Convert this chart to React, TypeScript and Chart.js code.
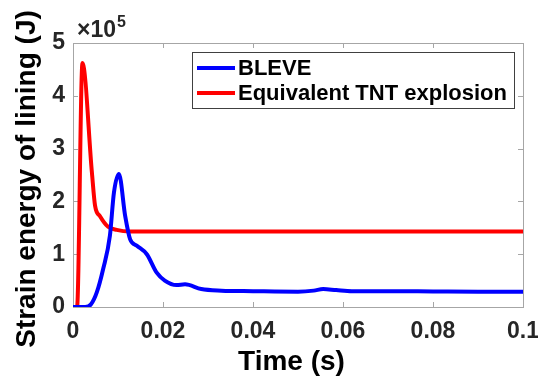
import React, { useEffect, useRef } from "react";
import { Chart, registerables } from "chart.js";

Chart.register(...registerables);

// Data (energy in units of 1e5 J)
const SCALE = 1e5;
const bleveTime = [0, 0.0027, 0.004, 0.0053, 0.0067, 0.0082, 0.0091, 0.0102, 0.0116, 0.0127, 0.0142, 0.0164, 0.0186, 0.0204, 0.023, 0.0249, 0.0285, 0.033, 0.04, 0.05, 0.0535, 0.0556, 0.0585, 0.062, 0.07, 0.08, 0.09, 0.1];
const bleveEnergy = [0, 0, 0.05, 0.28, 0.72, 1.35, 2.17, 2.52, 1.72, 1.28, 1.16, 1.0, 0.65, 0.5, 0.415, 0.43, 0.34, 0.31, 0.3, 0.29, 0.31, 0.34, 0.32, 0.3, 0.3, 0.295, 0.29, 0.29];
const tntTime = [0, 0.0009, 0.0021, 0.0042, 0.0049, 0.006, 0.0078, 0.0097, 0.0127, 0.02, 0.1];
const tntEnergy = [0, 0, 4.62, 2.55, 1.92, 1.72, 1.52, 1.46, 1.43, 1.43, 1.43];

const seriesLabels = ["BLEVE", "Equivalent TNT explosion"];
const seriesColors = ["#0000ff", "#ff0000"];
const xTickStep = 0.02;
const yTickStep = 1;
const xTitle = "Time (s)";
const yTitle = "Strain energy of lining (J)";

const FONT = "'Liberation Sans', Arial, sans-serif";

const framePlugin = {
  id: "frame",
  beforeDatasetsDraw(chart: any) {
    const { ctx, chartArea, scales } = chart;
    const { left, right, top, bottom } = chartArea;
    ctx.save();
    ctx.strokeStyle = "#a6a6a6";
    ctx.lineWidth = 1;
    ctx.strokeRect(Math.round(left) + 0.5, Math.round(top) + 0.5, Math.round(right - left), Math.round(bottom - top));
    const tl = 5;
    ctx.beginPath();
    scales.x.ticks.forEach((t: any) => {
      const px = Math.round(scales.x.getPixelForValue(t.value)) + 0.5;
      ctx.moveTo(px, bottom);
      ctx.lineTo(px, bottom - tl);
      ctx.moveTo(px, top);
      ctx.lineTo(px, top + tl);
    });
    scales.y.ticks.forEach((t: any) => {
      const py = Math.round(scales.y.getPixelForValue(t.value)) + 0.5;
      ctx.moveTo(left, py);
      ctx.lineTo(left + tl, py);
      ctx.moveTo(right, py);
      ctx.lineTo(right - tl, py);
    });
    ctx.stroke();
    ctx.restore();
  },
  afterDraw(chart: any) {
    const { ctx, chartArea } = chart;
    const { left, top } = chartArea;
    ctx.save();
    // axis titles
    ctx.fillStyle = "#000000";
    ctx.font = `bold 28px ${FONT}`;
    ctx.textAlign = "center";
    ctx.textBaseline = "alphabetic";
    ctx.fillText(xTitle, 291.5, 370);
    ctx.save();
    ctx.translate(35, 179);
    ctx.rotate(-Math.PI / 2);
    ctx.fillText(yTitle, 0, 0);
    ctx.restore();

    // exponent label
    ctx.fillStyle = "#262626";
    ctx.textBaseline = "alphabetic";
    ctx.textAlign = "left";
    ctx.font = `bold 23px ${FONT}`;
    ctx.fillText("×10", left + 4, top - 6);
    const w = ctx.measureText("×10").width;
    ctx.font = `bold 16px ${FONT}`;
    ctx.fillText("5", left + 4 + w + 1, top - 16);

    // legend
    const bx = left + 119;
    const by = top + 9;
    const bw = 322;
    const bh = 56;
    ctx.fillStyle = "#ffffff";
    ctx.fillRect(bx, by, bw, bh);
    ctx.strokeStyle = "#404040";
    ctx.lineWidth = 1;
    ctx.strokeRect(Math.round(bx) + 0.5, Math.round(by) + 0.5, bw, bh);
    chart.data.datasets.forEach((ds: any, i: number) => {
      const cy = by + 16 + i * 25;
      ctx.strokeStyle = ds.borderColor;
      ctx.lineWidth = 4;
      ctx.beginPath();
      ctx.moveTo(bx + 5, cy);
      ctx.lineTo(bx + 43, cy);
      ctx.stroke();
      ctx.fillStyle = "#000000";
      ctx.font = `bold 22px ${FONT}`;
      ctx.textBaseline = "middle";
      ctx.fillText(ds.label, bx + 46, cy + 1);
    });
    ctx.restore();
  },
};

export default function App() {
  const ref = useRef<HTMLCanvasElement>(null);
  useEffect(() => {
    if (!ref.current) return;
    const chart = new Chart(ref.current, {
      type: "line",
      data: {
        datasets: [
          {
            label: seriesLabels[0],
            data: bleveTime.map((t, i) => ({ x: t, y: bleveEnergy[i] * SCALE })),
            borderColor: seriesColors[0],
            backgroundColor: seriesColors[0],
            borderWidth: 4,
            pointRadius: 0,
            cubicInterpolationMode: "monotone",
            fill: false,
          },
          {
            label: seriesLabels[1],
            data: tntTime.map((t, i) => ({ x: t, y: tntEnergy[i] * SCALE })),
            borderColor: seriesColors[1],
            backgroundColor: seriesColors[1],
            borderWidth: 4,
            pointRadius: 0,
            cubicInterpolationMode: "monotone",
            fill: false,
          },
        ],
      },
      options: {
        animation: false,
        responsive: true,
        maintainAspectRatio: false,
        devicePixelRatio: 1,
        layout: { padding: { top: 43, right: 15, left: 0, bottom: 0 } },
        plugins: { legend: { display: false }, tooltip: { enabled: false } },
        scales: {
          x: {
            type: "linear",
            min: 0,
            max: 0.1,
            afterFit: (s: any) => { s.height = 72; s.paddingLeft = 0; s.paddingRight = 0; },
            grid: { display: false, drawTicks: false },
            border: { display: false },
            ticks: {
              stepSize: xTickStep,
              padding: 11,
              color: "#262626",
              font: { family: FONT, size: 23, weight: "bold" },
              maxRotation: 0,
              callback: (v: any) => String(parseFloat(Number(v).toFixed(2))),
            },
          },
          y: {
            min: 0,
            max: 5 * SCALE,
            afterFit: (s: any) => { s.width = 73; s.paddingTop = 0; s.paddingBottom = 0; },
            grid: { display: false, drawTicks: false },
            border: { display: false },
            ticks: {
              stepSize: yTickStep * SCALE,
              padding: 8,
              color: "#262626",
              font: { family: FONT, size: 23, weight: "bold" },
              callback: (v: any) => String(Math.round(Number(v) / SCALE)),
            },
          },
        },
      },
      plugins: [framePlugin],
    });
    return () => chart.destroy();
  }, []);
  return (
    <div style={{ position: "fixed", left: 0, top: 0, width: 538, height: 379, background: "#fff" }}>
      <canvas ref={ref} />
    </div>
  );
}
